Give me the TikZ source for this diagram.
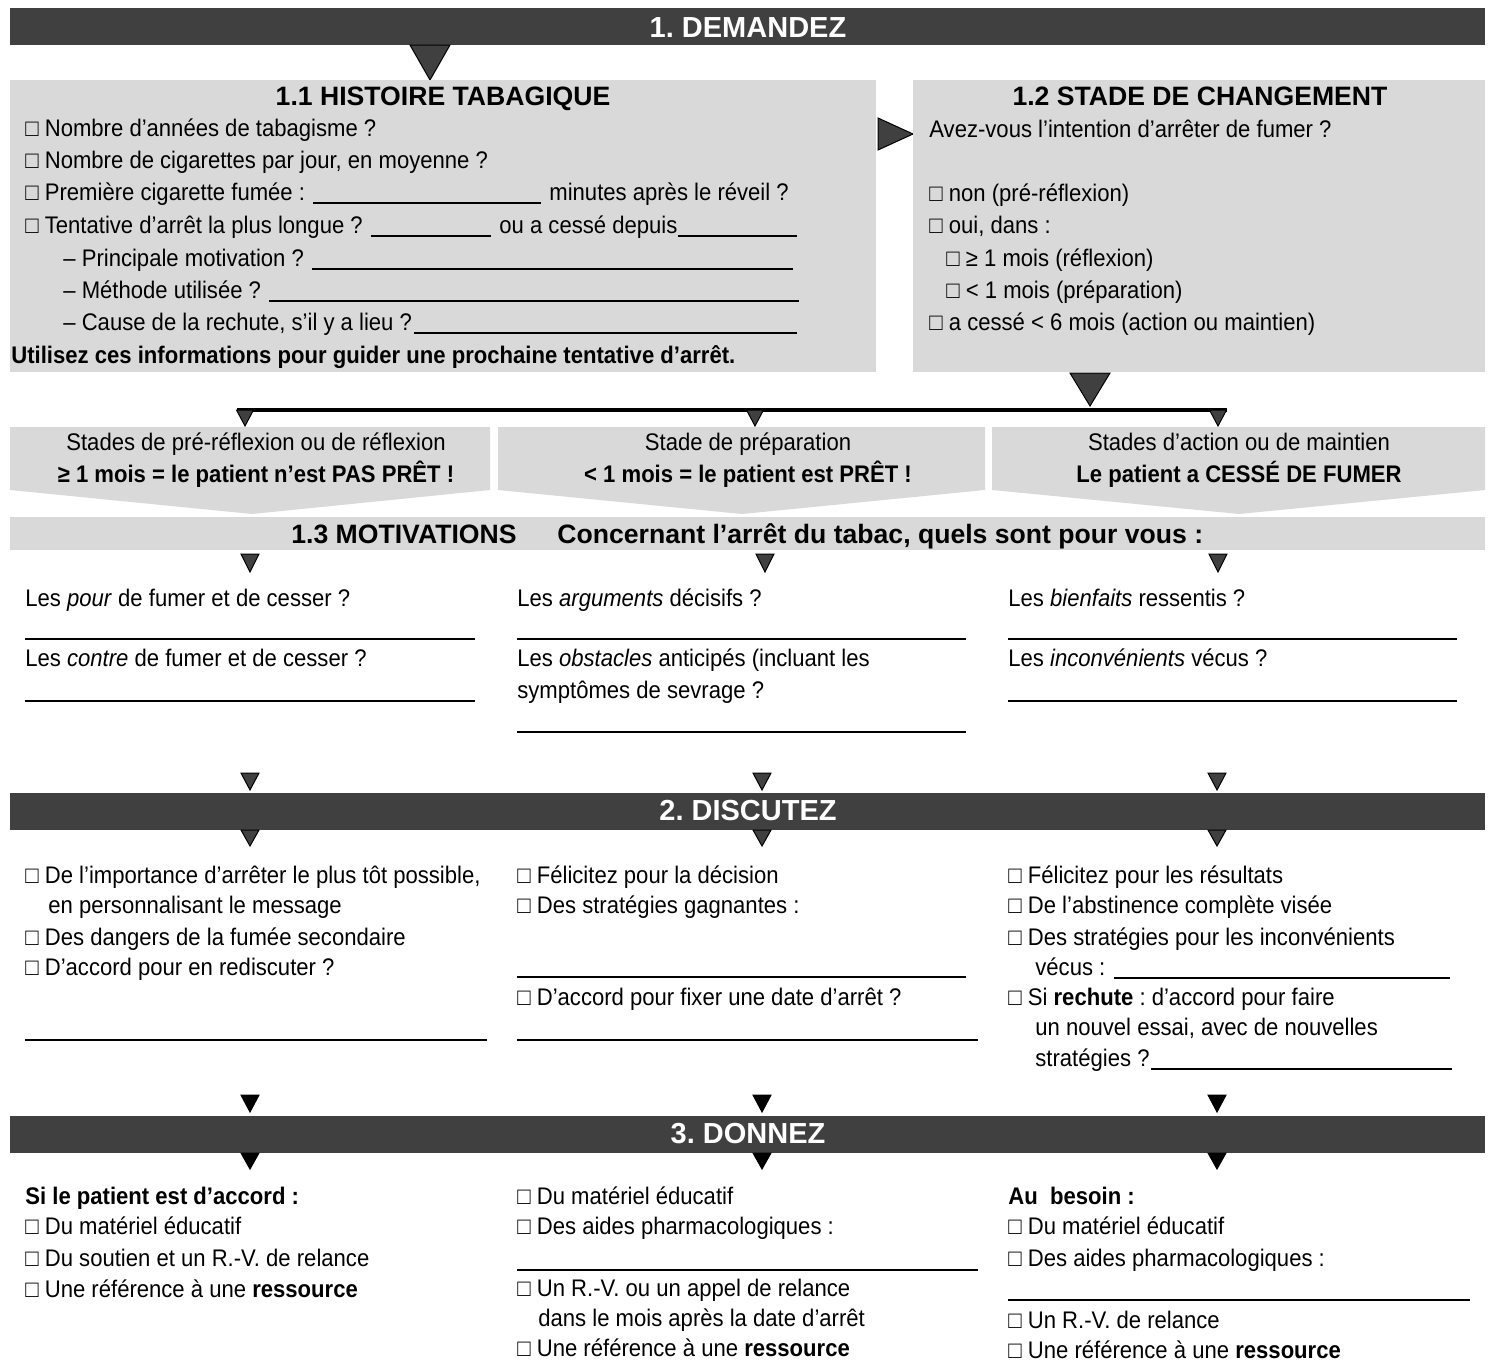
\documentclass[tikz,border=0pt]{standalone}
\usepackage{fontspec}
\setmainfont{Liberation Sans}[FakeStretch=0.92]
\newfontfamily\hfont{Liberation Sans}
\usetikzlibrary{calc}
\frenchspacing
\definecolor{barcol}{HTML}{404040}
\definecolor{boxcol}{HTML}{D9D9D9}
\tikzset{
 txt/.style={anchor=base west, inner sep=0pt, font=\fontsize{12pt}{14pt}\selectfont},
 ctxt/.style={anchor=base, inner sep=0pt, font=\fontsize{12pt}{14pt}\selectfont},
 bold/.style={font=\bfseries\fontsize{12pt}{14pt}\selectfont},
 btitle/.style={anchor=base, inner sep=0pt, text=white, font=\hfont\bfseries\fontsize{14.5pt}{16pt}\selectfont},
 stitle/.style={anchor=base, inner sep=0pt, font=\hfont\bfseries\fontsize{13.3pt}{15pt}\selectfont},
 blank/.style={line width=0.8pt},
 tri/.style={fill=barcol, draw=black, line width=0.5pt},
 tris/.style={fill=black, draw=black, line width=0.5pt},
}
\newcommand\dtri[5]{\filldraw[#1] ({#2-#4},#3) -- ({#2+#4},#3) -- (#2,#5) -- cycle;}
\begin{document}
\begin{tikzpicture}[x=0.5pt,y=-0.5pt]
\useasboundingbox (0,0) rectangle (1492,1361);
% ---------- 1. DEMANDEZ
\fill[barcol] (10,8) rectangle (1485,45);
\node[btitle] (t1) at (748,37) {1. DEMANDEZ};
\dtri{tri}{430}{45}{20}{80}
% box 1.1
\fill[boxcol] (10,80) rectangle (876,372);
\node[stitle] (h11) at (443,105) {1.1 HISTOIRE TABAGIQUE};
\node[txt] (a1) at (25,136) {□ Nombre d’années de tabagisme ?};
\node[txt] (a2) at (25,168) {□ Nombre de cigarettes par jour, en moyenne ?};
\node[txt] (a3) at (25,200) {□ Première cigarette fumée :};
\node[txt] (a3b) at (549,200) {minutes après le réveil ?};
\draw[blank] ($(a3.base east)+(8,3)$) -- ($(a3b.base west)+(-8,3)$);
\node[txt] (a4) at (25,233) {□ Tentative d’arrêt la plus longue ?};
\node[txt] (a4b) at (499,233) {ou a cessé depuis};
\draw[blank] ($(a4.base east)+(8,3)$) -- ($(a4b.base west)+(-8,3)$);
\draw[blank] ($(a4b.base east)+(0,3)$) -- (797,236);
\node[txt] (a5) at (63,266) {– Principale motivation ?};
\draw[blank] ($(a5.base east)+(8,3)$) -- (793,269);
\node[txt] (a6) at (63,298) {– Méthode utilisée ?};
\draw[blank] ($(a6.base east)+(8,3)$) -- (799,301);
\node[txt] (a7) at (63,330) {– Cause de la rechute, s’il y a lieu ?};
\draw[blank] ($(a7.base east)+(2,3)$) -- (797,333);
\node[txt,bold] (a8) at (11,363) {Utilisez ces informations pour guider une prochaine tentative d’arrêt.};
% arrow right
\filldraw[tri] (878,118) -- (913,134) -- (878,150) -- cycle;
% box 1.2
\fill[boxcol] (913,80) rectangle (1485,372);
\node[stitle] (h12) at (1200,105) {1.2 STADE DE CHANGEMENT};
\node[txt] (b1) at (929,137) {Avez-vous l’intention d’arrêter de fumer ?};
\node[txt] (b2) at (929,201) {□ non (pré-réflexion)};
\node[txt] (b3) at (929,233) {□ oui, dans :};
\node[txt] (b4) at (946,266) {□ ≥ 1 mois (réflexion)};
\node[txt] (b5) at (946,298) {□ < 1 mois (préparation)};
\node[txt] (b6) at (929,330) {□ a cessé < 6 mois (action ou maintien)};
\dtri{tri}{1090}{373}{20}{406}
% distribution line
\draw[line width=1.6pt] (237,410) -- (1227,410);
\dtri{tri}{245}{410}{8.5}{426}
\dtri{tri}{755}{410}{8.5}{426}
\dtri{tri}{1218}{410}{8.5}{426}
% pentagons
\fill[boxcol] (10,427) -- (490,427) -- (490,490) -- (252,514) -- (10,490) -- cycle;
\fill[boxcol] (498,427) -- (985,427) -- (985,490) -- (742,514) -- (498,490) -- cycle;
\fill[boxcol] (992,427) -- (1485,427) -- (1485,490) -- (1239,514) -- (992,490) -- cycle;
\node[ctxt] (p1a) at (256,450) {Stades de pré-réflexion ou de réflexion};
\node[ctxt,bold] (p1b) at (256,482) {≥ 1 mois = le patient n’est PAS PRÊT !};
\node[ctxt] (p2a) at (748,450) {Stade de préparation};
\node[ctxt,bold] (p2b) at (748,482) {< 1 mois = le patient est PRÊT !};
\node[ctxt] (p3a) at (1239,450) {Stades d’action ou de maintien};
\node[ctxt,bold] (p3b) at (1239,482) {Le patient a CESSÉ DE FUMER};
% 1.3 bar
\fill[boxcol] (10,517) rectangle (1485,550);
\node[stitle,anchor=base west] (m1) at (291,543) {1.3 MOTIVATIONS};
\node[stitle,anchor=base west] (m2) at (557,543) {Concernant l’arrêt du tabac, quels sont pour vous :};
\dtri{tri}{250}{554}{9}{572}
\dtri{tri}{765}{554}{9}{572}
\dtri{tri}{1218}{554}{9}{572}
% motivations
\node[txt] (q1) at (25,606) {Les \textit{pour} de fumer et de cesser ?};
\node[txt] (q2) at (517,606) {Les \textit{arguments} décisifs ?};
\node[txt] (q3) at (1008,606) {Les \textit{bienfaits} ressentis ?};
\draw[blank] (25,639) -- (475,639);
\draw[blank] (517,639) -- (966,639);
\draw[blank] (1008,639) -- (1457,639);
\node[txt] (q4) at (25,666) {Les \textit{contre} de fumer et de cesser ?};
\node[txt] (q5) at (517,666) {Les \textit{obstacles} anticipés (incluant les};
\node[txt] (q5b) at (517,698) {symptômes de sevrage ?};
\node[txt] (q6) at (1008,666) {Les \textit{inconvénients} vécus ?};
\draw[blank] (25,701) -- (475,701);
\draw[blank] (1008,701) -- (1457,701);
\draw[blank] (517,732) -- (966,732);
% ---------- 2. DISCUTEZ
\dtri{tri}{250}{773}{9}{790}
\dtri{tri}{762}{773}{9}{790}
\dtri{tri}{1217}{773}{9}{790}
\fill[barcol] (10,793) rectangle (1485,830);
\node[btitle] (t2) at (748,820) {2. DISCUTEZ};
\dtri{tri}{250}{830}{9}{846}
\dtri{tri}{762}{830}{9}{846}
\dtri{tri}{1217}{830}{9}{846}
\node[txt] (d1) at (25,883) {□ De l’importance d’arrêter le plus tôt possible,};
\node[txt] (d2) at (48,913) {en personnalisant le message};
\node[txt] (d3) at (25,945) {□ Des dangers de la fumée secondaire};
\node[txt] (d4) at (25,975) {□ D’accord pour en rediscuter ?};
\draw[blank] (25,1040) -- (487,1040);
\node[txt] (e1) at (517,883) {□ Félicitez pour la décision};
\node[txt] (e2) at (517,913) {□ Des stratégies gagnantes :};
\draw[blank] (517,977) -- (966,977);
\node[txt] (e3) at (517,1005) {□ D’accord pour fixer une date d’arrêt ?};
\draw[blank] (517,1040) -- (978,1040);
\node[txt] (f1) at (1008,883) {□ Félicitez pour les résultats};
\node[txt] (f2) at (1008,913) {□ De l’abstinence complète visée};
\node[txt] (f3) at (1008,945) {□ Des stratégies pour les inconvénients};
\node[txt] (f4) at (1035,975) {vécus :};
\draw[blank] ($(f4.base east)+(8,3)$) -- (1450,978);
\node[txt] (f5) at (1008,1005) {□ Si \textbf{rechute} : d’accord pour faire};
\node[txt] (f6) at (1035,1035) {un nouvel essai, avec de nouvelles};
\node[txt] (f7) at (1035,1066) {stratégies ?};
\draw[blank] ($(f7.base east)+(1,3)$) -- (1452,1069);
% ---------- 3. DONNEZ
\dtri{tris}{250}{1095}{9}{1112}
\dtri{tris}{762}{1095}{9}{1112}
\dtri{tris}{1217}{1095}{9}{1112}
\fill[barcol] (10,1116) rectangle (1485,1153);
\node[btitle] (t3) at (748,1143) {3. DONNEZ};
\dtri{tris}{250}{1153}{9}{1169}
\dtri{tris}{762}{1153}{9}{1169}
\dtri{tris}{1217}{1153}{9}{1169}
\node[txt,bold] (g1) at (25,1204) {Si le patient est d’accord :};
\node[txt] (g2) at (25,1234) {□ Du matériel éducatif};
\node[txt] (g3) at (25,1266) {□ Du soutien et un R.-V. de relance};
\node[txt] (g4) at (25,1297) {□ Une référence à une \textbf{ressource}};
\node[txt] (h1) at (517,1204) {□ Du matériel éducatif};
\node[txt] (h2) at (517,1234) {□ Des aides pharmacologiques :};
\draw[blank] (517,1270) -- (978,1270);
\node[txt] (h3) at (517,1296) {□ Un R.-V. ou un appel de relance};
\node[txt] (h4) at (538,1326) {dans le mois après la date d’arrêt};
\node[txt] (h5) at (517,1356) {□ Une référence à une \textbf{ressource}};
\node[txt,bold] (k1) at (1008,1204) {Au\ \ besoin :};
\node[txt] (k2) at (1008,1234) {□ Du matériel éducatif};
\node[txt] (k3) at (1008,1266) {□ Des aides pharmacologiques :};
\draw[blank] (1008,1300) -- (1470,1300);
\node[txt] (k4) at (1008,1328) {□ Un R.-V. de relance};
\node[txt] (k5) at (1008,1358) {□ Une référence à une \textbf{ressource}};
\end{tikzpicture}
\end{document}
